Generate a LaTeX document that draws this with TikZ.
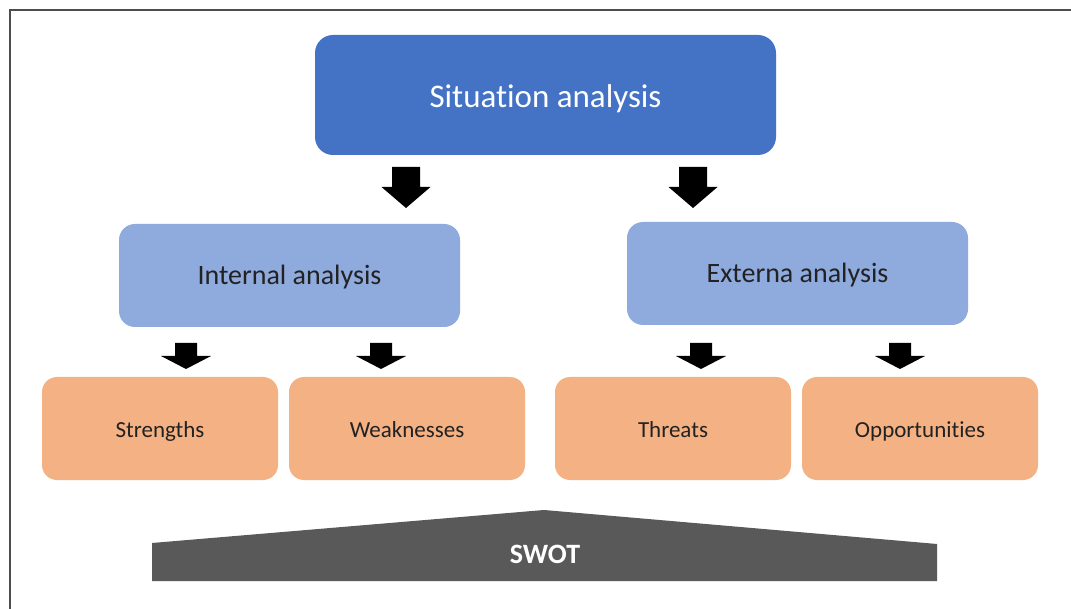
\documentclass[tikz,border=0pt]{standalone}
\usepackage{fontspec}
\setmainfont{Carlito}[RawFeature={-liga;-clig;-dlig;-calt}]
\begin{document}
\begin{tikzpicture}[x=1pt,y=-1pt,
  box/.style={draw=none, inner sep=0pt, align=center, text depth=0pt},
  topbox/.style={box, fill=sitblue, rounded corners=18pt, text=white,
    minimum width=461pt, minimum height=120pt, text height=25pt,
    font=\fontsize{33}{40}\selectfont},
  midbox/.style={box, fill=sublue, rounded corners=16pt, text=txtdark,
    minimum width=341pt, minimum height=103pt, text height=19pt,
    font=\fontsize{28}{34}\selectfont},
  leafbox/.style={box, fill=leaforange, rounded corners=15pt, text=txtdark,
    minimum width=236pt, minimum height=103pt, text height=18pt,
    font=\fontsize{23}{28}\selectfont},
  bigdown/.pic={\fill[black] (-14,0) -- (14,0) -- (14,20) -- (24.5,20) -- (0,41)
      -- (-24.5,20) -- (-14,20) -- cycle;},
  smalldown/.pic={\fill[black] (-11,0) -- (11,0) -- (11,13) -- (25,13) -- (0,26)
      -- (-25,13) -- (-11,13) -- cycle;}
]
\definecolor{sitblue}{HTML}{4472C4}
\definecolor{sublue}{HTML}{8FAADC}
\definecolor{leaforange}{HTML}{F4B183}
\definecolor{txtdark}{HTML}{222222}
\definecolor{swotgray}{HTML}{595959}
\definecolor{framegray}{HTML}{4D4D4D}

\useasboundingbox (0,0) rectangle (1071,609);
\fill[white] (0,0) rectangle (1071,609);

% outer frame, open towards the right and the bottom
\draw[framegray, line width=2pt] (10,609) -- (10,10) -- (1071,10);

% boxes
\node[topbox] (sit) at (545.5,95) {Situation analysis};

\node[midbox] (int) at (289.5,275.5) {Internal analysis};
\node[midbox] (ext) at (797.5,273.5) {Externa analysis};

\node[leafbox] (str) at (160,428.5) {Strengths};
\node[leafbox] (wea) at (407,428.5) {Weaknesses};
\node[leafbox] (thr) at (673,428.5) {Threats};
\node[leafbox] (opp) at (920,428.5) {Opportunities};

% block arrows between the levels
\pic at (406,167) {bigdown};
\pic at (693,167) {bigdown};
\pic at (186,343) {smalldown};
\pic at (381,343) {smalldown};
\pic at (701,343) {smalldown};
\pic at (900,343) {smalldown};

% SWOT base
\fill[swotgray] (152,581) -- (152,543) -- (544,510) -- (937,544) -- (937,581) -- cycle;
\node[text=white, font=\bfseries\fontsize{28}{34}\selectfont] (swot) at (545,554) {SWOT};
\end{tikzpicture}
\end{document}
